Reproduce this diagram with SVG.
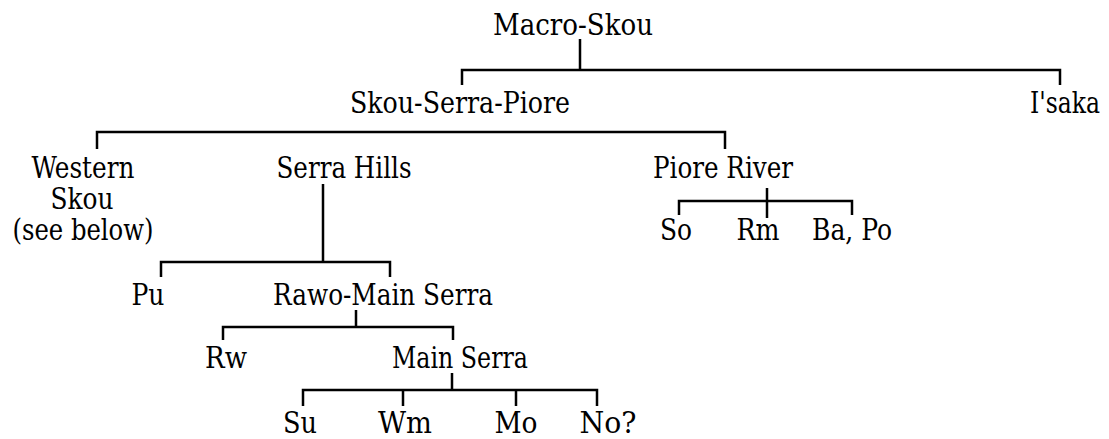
<svg xmlns="http://www.w3.org/2000/svg" width="1109" height="439" viewBox="0 0 1109 439">
<style>
.t{font-family:'DejaVu Serif Condensed','DejaVu Serif',serif;font-stretch:condensed;font-size:29px;fill:#000;text-anchor:middle}
.c{fill:none;stroke:#000;stroke-width:2.5}
</style>
<rect width="1109" height="439" fill="#fff"/>
<g id="connectors">
<path class="c" d="M580 39V70M462 85V70H1060V85"/>
<path class="c" d="M97 149V132H725V149"/>
<path class="c" d="M323 184V262M161 277V262H390V277"/>
<path class="c" d="M767 188V218M679 215V201H852V215"/>
<path class="c" d="M356 310V327M223 340V327H453V340"/>
<path class="c" d="M452 373V390M303 406V390H597V406M403 390V406M516 390V406"/>
</g>
<g class="t">
<g id="n-macro"><text x="573" y="35" textLength="160" lengthAdjust="spacingAndGlyphs">Macro-Skou</text></g>
<g id="n-ssp"><text x="460" y="113" textLength="220" lengthAdjust="spacingAndGlyphs">Skou-Serra-Piore</text></g>
<g id="n-isaka"><text x="1065" y="113" textLength="70" lengthAdjust="spacingAndGlyphs">I'saka</text></g>
<g id="n-western"><text x="83" y="178" textLength="103" lengthAdjust="spacingAndGlyphs">Western</text><text x="82" y="209" textLength="63" lengthAdjust="spacingAndGlyphs">Skou</text><text x="83" y="240" textLength="141" lengthAdjust="spacingAndGlyphs">(see below)</text></g>
<g id="n-serrahills"><text x="344" y="178" textLength="135" lengthAdjust="spacingAndGlyphs">Serra Hills</text></g>
<g id="n-piore"><text x="723" y="178" textLength="140" lengthAdjust="spacingAndGlyphs">Piore River</text></g>
<g id="n-so"><text x="676" y="240" textLength="32" lengthAdjust="spacingAndGlyphs">So</text></g>
<g id="n-rm"><text x="758" y="240" textLength="43" lengthAdjust="spacingAndGlyphs">Rm</text></g>
<g id="n-bapo"><text x="852" y="240" textLength="80" lengthAdjust="spacingAndGlyphs">Ba, Po</text></g>
<g id="n-pu"><text x="148" y="305" textLength="33" lengthAdjust="spacingAndGlyphs">Pu</text></g>
<g id="n-rawo"><text x="383" y="305" textLength="220" lengthAdjust="spacingAndGlyphs">Rawo-Main Serra</text></g>
<g id="n-rw"><text x="226" y="368" textLength="42" lengthAdjust="spacingAndGlyphs">Rw</text></g>
<g id="n-mainserra"><text x="460" y="368" textLength="136" lengthAdjust="spacingAndGlyphs">Main Serra</text></g>
<g id="n-su"><text x="300" y="433" textLength="34" lengthAdjust="spacingAndGlyphs">Su</text></g>
<g id="n-wm"><text x="405" y="433" textLength="54" lengthAdjust="spacingAndGlyphs">Wm</text></g>
<g id="n-mo"><text x="516" y="433" textLength="43" lengthAdjust="spacingAndGlyphs">Mo</text></g>
<g id="n-no"><text x="608" y="433" textLength="57" lengthAdjust="spacingAndGlyphs">No?</text></g>
</g>
</svg>
